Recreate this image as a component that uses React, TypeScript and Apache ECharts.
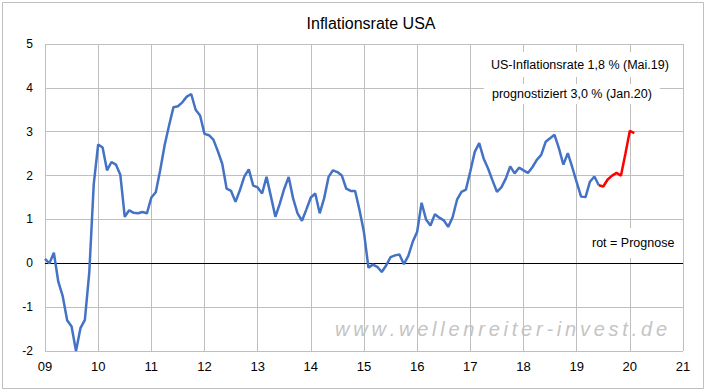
import React, { useEffect, useRef } from "react";
import * as echarts from "echarts";

// x positions are month indices; tick every 12 months
const yearLabels = ["09", "10", "11", "12", "13", "14", "15", "16", "17", "18", "19", "20", "21"];

// Inflation rate USA (% y/y), monthly, actual
const actualCPI = [
  0.1, 0.0, 0.24, -0.42, -0.75, -1.3, -1.44, -2.0, -1.48, -1.29, -0.2, 1.8,
  2.71, 2.64, 2.12, 2.31, 2.25, 2.02, 1.06, 1.21, 1.15, 1.14, 1.17, 1.14,
  1.5, 1.62, 2.12, 2.69, 3.14, 3.56, 3.58, 3.67, 3.8, 3.86, 3.5, 3.37,
  2.95, 2.92, 2.82, 2.56, 2.27, 1.7, 1.65, 1.4, 1.67, 1.98, 2.14, 1.77,
  1.73, 1.59, 1.97, 1.52, 1.06, 1.36, 1.7, 1.97, 1.48, 1.14, 0.97, 1.23,
  1.5, 1.59, 1.14, 1.48, 1.97, 2.12, 2.08, 2.0, 1.7, 1.65, 1.65, 1.21,
  0.7, -0.1, -0.03, -0.08, -0.2, -0.05, 0.14, 0.18, 0.2, -0.02, 0.17, 0.49,
  0.72, 1.38, 1.0, 0.86, 1.12, 1.04, 0.98, 0.83, 1.05, 1.45, 1.63, 1.68,
  2.1, 2.54, 2.74, 2.39, 2.16, 1.89, 1.63, 1.73, 1.93, 2.21, 2.05, 2.18,
  2.12, 2.06, 2.19, 2.36, 2.47, 2.77, 2.85, 2.93, 2.62, 2.25, 2.51, 2.19,
  1.85, 1.52, 1.51, 1.86, 1.98, 1.78,
];

// Forecast ("rot = Prognose"), starting at the last actual month
const forecastCPI = [1.78, 1.75, 1.91, 2.0, 2.06, 2.0, 2.5, 3.02, 2.97];

const yTicks = { min: -2, max: 5, step: 1 };

const titleText = "Inflationsrate USA";
const note1 = "US-Inflationsrate 1,8 % (Mai.19)";
const note2 = "prognostiziert 3,0 % (Jan.20)";
const note3 = "rot = Prognose";
const watermark = "www.wellenreiter-invest.de";

const FONT = "'Liberation Sans', Arial, sans-serif";

function spacedText(text: string, font: string, x0: number, y: number, totalWidth: number, fill: string) {
  const ctx = document.createElement("canvas").getContext("2d");
  const widths: number[] = [];
  if (ctx) {
    ctx.font = font;
    for (const ch of text) widths.push(ctx.measureText(ch).width);
  } else {
    for (let i = 0; i < text.length; i++) widths.push(10);
  }
  const natural = widths.reduce((a, b) => a + b, 0);
  const gap = text.length > 1 ? Math.max(0, (totalWidth - natural) / (text.length - 1)) : 0;
  let x = x0;
  const children: any[] = [];
  Array.from(text).forEach((ch, i) => {
    children.push({
      type: "text",
      x,
      y,
      silent: true,
      style: { text: ch, font, fill },
    });
    x += widths[i] + gap;
  });
  return { type: "group", z: 50, silent: true, children };
}

export default function App() {
  const ref = useRef<HTMLDivElement>(null);

  useEffect(() => {
    if (!ref.current) return;
    const chart = echarts.init(ref.current, null, { renderer: "svg" });
    const forecastStart = actualCPI.length - 1;
    const actualData = actualCPI.map((v, i) => [i, v]);
    const forecastData = forecastCPI.map((v, i) => [forecastStart + i, v]);
    const xMax = (yearLabels.length - 1) * 12;

    chart.setOption({
      animation: false,
      backgroundColor: "#ffffff",
      title: {
        text: titleText,
        left: 366,
        textAlign: "center",
        top: 10,
        textStyle: { fontFamily: FONT, fontSize: 16, fontWeight: "normal", color: "#000" },
      },
      grid: { left: 45, right: 24, top: 44, bottom: 41, containLabel: false },
      xAxis: {
        type: "value",
        min: 0,
        max: xMax,
        interval: 12,
        axisLine: { show: true, lineStyle: { color: "#bfbfbf", width: 1 } },
        axisTick: { show: false },
        axisLabel: {
          margin: 9,
          fontFamily: FONT,
          fontSize: 13,
          color: "#000",
          formatter: (v: number) => yearLabels[Math.round(v / 12)] ?? "",
        },
        splitLine: { show: true, lineStyle: { color: "#bfbfbf", width: 1 } },
      },
      yAxis: {
        type: "value",
        min: yTicks.min,
        max: yTicks.max,
        interval: yTicks.step,
        axisLine: { show: false },
        axisTick: { show: false },
        axisLabel: { margin: 12, fontFamily: FONT, fontSize: 12, color: "#000" },
        splitLine: { show: true, lineStyle: { color: "#bfbfbf", width: 1 } },
      },
      series: [
        {
          type: "line",
          data: actualData,
          showSymbol: false,
          symbol: "none",
          lineStyle: { color: "#4472C4", width: 2.5 },
          z: 3,
          markLine: {
            silent: true,
            symbol: "none",
            label: { show: false },
            lineStyle: { color: "#000", width: 1, type: "solid" },
            data: [{ yAxis: 0 }],
            z: 2,
          },
        },
        {
          type: "line",
          data: forecastData,
          showSymbol: false,
          symbol: "none",
          lineStyle: { color: "#ff0000", width: 2.5 },
          z: 4,
        },
      ],
      graphic: [
        {
          type: "rect",
          z: 0,
          silent: true,
          shape: { x: 2.5, y: 2.5, width: 701, height: 386 },
          style: { fill: "none", stroke: "#bfbfbf", lineWidth: 1 },
        },
        {
          type: "text",
          z: 100,
          x: 483,
          y: 52,
          style: {
            text: note1,
            font: `12.5px ${FONT}`,
            fill: "#000",
            backgroundColor: "#fff",
            padding: [6, 8, 6, 8],
          },
        },
        {
          type: "text",
          z: 100,
          x: 484,
          y: 84,
          style: {
            text: note2,
            font: `12.5px ${FONT}`,
            fill: "#000",
            backgroundColor: "#fff",
            padding: [3, 8, 4, 8],
          },
        },
        {
          type: "text",
          z: 100,
          x: 585,
          y: 228,
          style: {
            text: note3,
            font: `12.5px ${FONT}`,
            fill: "#000",
            backgroundColor: "#fff",
            padding: [8, 7, 9, 7],
          },
        },
        spacedText(watermark, `italic 20px ${FONT}`, 335, 319, 332, "#c4c4c4"),
      ],
    });

    return () => chart.dispose();
  }, []);

  return (
    <div
      ref={ref}
      style={{ position: "absolute", left: 0, top: 0, width: 707, height: 392, background: "#fff" }}
    />
  );
}
